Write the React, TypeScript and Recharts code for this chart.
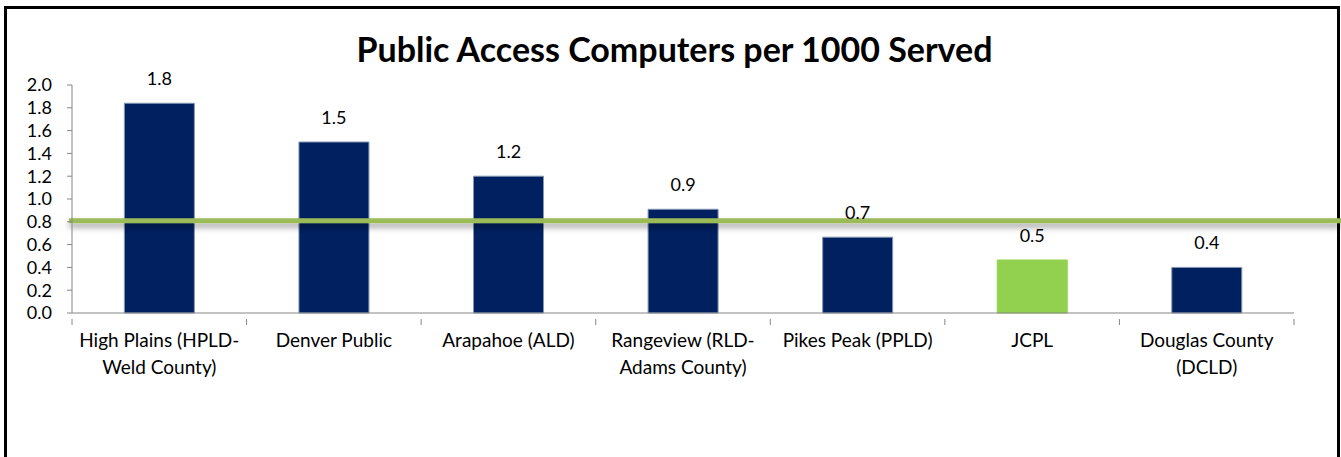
import { BarChart, Bar, XAxis, YAxis, Cell, LabelList, ReferenceLine } from 'recharts';

const CATEGORIES = [
  'High Plains (HPLD-Weld County)',
  'Denver Public',
  'Arapahoe (ALD)',
  'Rangeview (RLD-Adams County)',
  'Pikes Peak (PPLD)',
  'JCPL',
  'Douglas County (DCLD)',
];
const TICK_LINES = [
  ['High Plains (HPLD-', 'Weld County)'],
  ['Denver Public'],
  ['Arapahoe (ALD)'],
  ['Rangeview (RLD-', 'Adams County)'],
  ['Pikes Peak (PPLD)'],
  ['JCPL'],
  ['Douglas County', '(DCLD)'],
];
const VALUES = [1.84, 1.5, 1.2, 0.91, 0.665, 0.465, 0.4];
const Y_TICKS = [0, 0.2, 0.4, 0.6, 0.8, 1.0, 1.2, 1.4, 1.6, 1.8, 2.0];
const TARGET = 0.81;
const HIGHLIGHT = 'JCPL';

const data = CATEGORIES.map((name, i) => ({ name, value: VALUES[i] }));

const FONT = 'Lato, "Open Sans", sans-serif';
const AXIS = '#868686';
const W = 1341;
const H = 457;

// category label plus the tick marks at the category edges
function CategoryTick(props: any) {
  const { x, y, index, payload, width, visibleTicksCount } = props;
  const lines = TICK_LINES[index] ?? [];
  const half = payload?.offset || (width && visibleTicksCount ? width / visibleTicksCount / 2 : 0);
  const axisY = y - 2;
  const last = index === CATEGORIES.length - 1;
  return (
    <g>
      <line x1={x - half} x2={x - half} y1={axisY} y2={axisY + 6} stroke={AXIS} />
      {last && <line x1={x + half} x2={x + half} y1={axisY} y2={axisY + 6} stroke={AXIS} />}
      <text x={x} y={y} textAnchor="middle" fontFamily={FONT} fontSize={19} fill="#000">
        {lines.map((l, i) => (
          <tspan key={i} x={x} dy={i === 0 ? 26 : 27}>
            {l}
          </tspan>
        ))}
      </text>
    </g>
  );
}

function TargetLine(props: any) {
  const { x1, y1 } = props;
  return (
    <g>
      <defs>
        <filter id="lineShadow" filterUnits="userSpaceOnUse" x={0} y={0} width={W} height={H}>
          <feDropShadow dx={0} dy={4} stdDeviation={3} floodColor="#000" floodOpacity={0.4} />
        </filter>
      </defs>
      <line x1={x1 - 3} y1={y1} x2={W} y2={y1} stroke="#9BBB59" strokeWidth={5} filter="url(#lineShadow)" />
    </g>
  );
}

export default function App() {
  return (
    <div style={{ position: 'absolute', left: 0, top: 0, width: W, height: H, overflow: 'hidden', background: '#fff' }}>
      <div
        style={{
          position: 'absolute',
          left: 4,
          top: 6,
          width: 1336,
          height: 520,
          border: '3px solid #000',
          boxSizing: 'border-box',
        }}
      />
      <div
        style={{
          position: 'absolute',
          left: 0,
          width: W,
          top: 29,
          textAlign: 'center',
          fontFamily: FONT,
          fontWeight: 700,
          fontSize: 34,
          lineHeight: '40px',
          color: '#000',
          paddingLeft: 4,
        }}
      >
        Public Access Computers per 1000 Served
      </div>
      <div style={{ position: 'absolute', left: 0, top: 0 }}>
        <BarChart
          width={W}
          height={H}
          data={data}
          margin={{ top: 85, right: 47, bottom: 64, left: 12 }}
          barCategoryGap="30%"
        >
          <XAxis
            dataKey="name"
            height={80}
            axisLine={{ stroke: AXIS }}
            tickLine={false}
            interval={0}
            tick={<CategoryTick />}
          />
          <YAxis
            domain={[0, 2]}
            ticks={Y_TICKS}
            interval={0}
            width={60}
            tickSize={5}
            tickMargin={15}
            tickFormatter={(v: number) => v.toFixed(1)}
            axisLine={{ stroke: AXIS }}
            tickLine={{ stroke: AXIS }}
            tick={{ fill: '#000', fontSize: 18, fontFamily: FONT }}
          />
          <Bar dataKey="value" isAnimationActive={false} strokeWidth={1}>
            {data.map((d, i) => (
              <Cell
                key={`cell-${i}`}
                fill={d.name === HIGHLIGHT ? '#92D050' : '#002060'}
                stroke={d.name === HIGHLIGHT ? '#92D050' : '#8497B0'}
              />
            ))}
            <LabelList
              dataKey="value"
              position="top"
              offset={18}
              formatter={(v: any) => Number(v).toFixed(1)}
              style={{ fill: '#000', fontSize: 18, fontFamily: FONT }}
            />
          </Bar>
          <ReferenceLine y={TARGET} shape={<TargetLine />} />
        </BarChart>
      </div>
    </div>
  );
}
